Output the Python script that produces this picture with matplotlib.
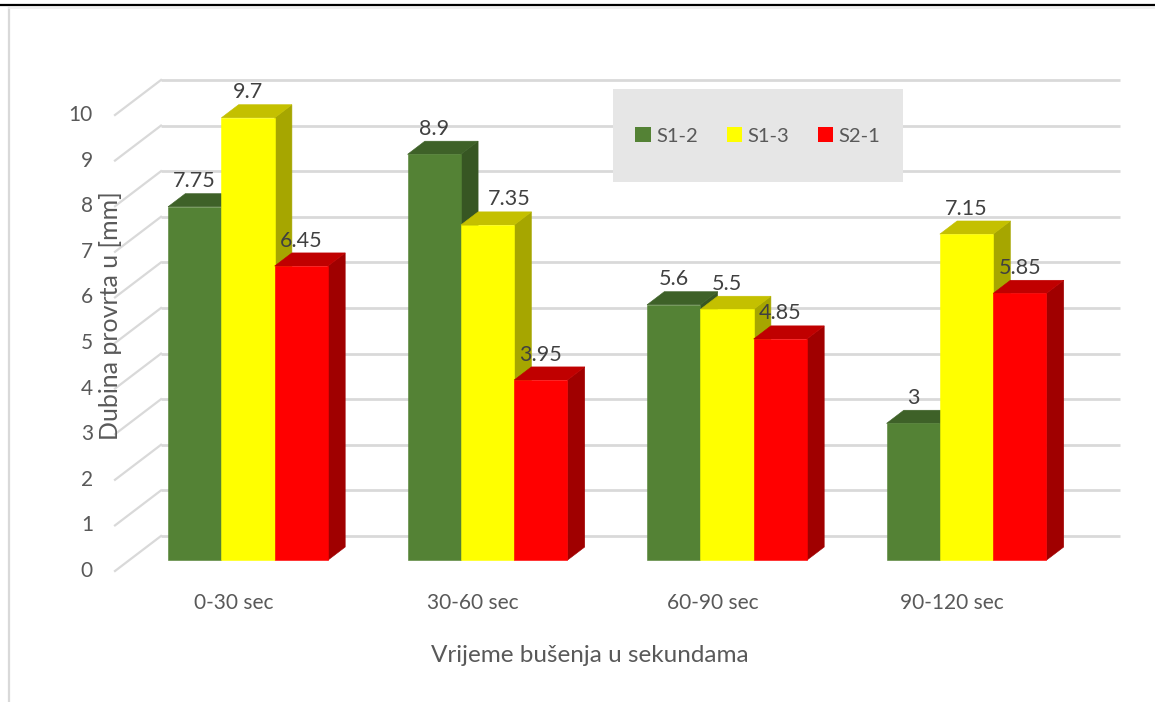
import matplotlib
matplotlib.use("Agg")
import matplotlib.pyplot as plt
from matplotlib.patches import Polygon, Rectangle
from matplotlib.lines import Line2D

plt.rcParams["font.family"] = ["Lato", "DejaVu Sans"]

# ---- data -------------------------------------------------------------
categories = ["0-30 sec", "30-60 sec", "60-90 sec", "90-120 sec"]
series_names = ["S1-2", "S1-3", "S2-1"]
s1_2 = [7.75, 8.9, 5.6, 3.0]
s1_3 = [9.7, 7.35, 5.5, 7.15]
s2_1 = [6.45, 3.95, 4.85, 5.85]
y_ticks = [0, 1, 2, 3, 4, 5, 6, 7, 8, 9, 10]
x_title = "Vrijeme bušenja u sekundama"
y_title = "Dubina provrta u [mm]"

series_values = [s1_2, s1_3, s2_1]
# (front, top, side) shades for each series
series_colors = [
    ("#548235", "#3e6128", "#375623"),
    ("#ffff00", "#c4c000", "#a6a600"),
    ("#ff0000", "#c00000", "#a00000"),
]
TEXT = "#595959"
LABEL = "#404040"
GRID = "#d9d9d9"

# ---- figure and oblique projection -----------------------------------
W, H = 1155, 702
fig = plt.figure(figsize=(W / 100, H / 100), dpi=100)
ax = fig.add_axes([0, 0, 1, 1])

PX_CAT = 239.5      # pixels per category step
PX_VAL = 45.6       # pixels per value unit
OX, OY = 248.0, 536  # plane origin in pixels (from top-left)
ax.set_xlim((0 - OX) / PX_CAT, (W - OX) / PX_CAT)
ax.set_ylim((OY - H) / PX_VAL, OY / PX_VAL)
ax.axis("off")

DX = -46 / PX_CAT   # shift per unit of depth (towards the viewer)
DV = -35 / PX_VAL


def proj(x, v, d):
    """Map (category x, value v, depth d: 0=back, 1=front) to the plane."""
    return (x + DX * d, v + DV * d)


X_MIN, X_MAX = (161 - OX) / PX_CAT, (1120 - OX) / PX_CAT

# gridlines: back wall + left side wall
for t in y_ticks:
    ax.plot([X_MIN, X_MAX], [t, t], color=GRID, lw=2, zorder=1,
            solid_capstyle="butt")
    fx, fy = proj(X_MIN, t, 1)
    ax.plot([fx, X_MIN], [fy, t], color=GRID, lw=1.6, zorder=1)
    ax.text(fx - 22 / PX_CAT, fy, str(t), ha="right", va="center",
            fontsize=15, color=TEXT)

# a data label that sits beside its bar rather than centred over it
label_nudge = {(1, 1): 22 / PX_CAT}

# bars
BW = 53.3 / PX_CAT
D0, D1 = 0.315, 0.69
z = 2
for i, cat in enumerate(categories):
    xc = i - DX * D1   # front face centred on the category position
    for j, vals in enumerate(series_values):
        v = vals[i]
        front_c, top_c, side_c = series_colors[j]
        L = xc - 1.5 * BW + j * BW
        R = L + BW
        side = [proj(R, 0, D1), proj(R, 0, D0), proj(R, v, D0), proj(R, v, D1)]
        top = [proj(L, v, D1), proj(R, v, D1), proj(R, v, D0), proj(L, v, D0)]
        front = [proj(L, 0, D1), proj(R, 0, D1), proj(R, v, D1), proj(L, v, D1)]
        for pts, c in ((side, side_c), (top, top_c), (front, front_c)):
            ax.add_patch(Polygon(pts, closed=True, facecolor=c, edgecolor=c,
                                 lw=0.4, zorder=z))
            z += 1
        lx, _ = proj((L + R) / 2, 0, D1)
        lx += label_nudge.get((j, i), 0)
        ax.text(lx, v + 0.03, f"{v:g}", ha="center", va="center",
                fontsize=15.5, color=LABEL, zorder=100)
    # category label sits on the front edge of the floor
    cx, _ = proj(xc, 0, 1)
    ax.text(cx, (OY - 603) / PX_VAL, cat, ha="center", va="center",
            fontsize=15, color=TEXT)

# axis titles
ax.text((590 - OX) / PX_CAT, (OY - 656) / PX_VAL, x_title, ha="center",
        va="center", fontsize=17.5, color=TEXT)
ax.text((110 - OX) / PX_CAT, (OY - 316) / PX_VAL, y_title, ha="center",
        va="center", rotation=90, fontsize=18, color=TEXT)

# legend box
fig.patches.append(Rectangle((613 / W, 1 - 182 / H), 290 / W, 93 / H,
                             transform=fig.transFigure, facecolor="#e6e6e6",
                             edgecolor="none", zorder=50))
handles = [Rectangle((0, 0), 1, 1, facecolor=c[0], edgecolor="none")
           for c in series_colors]
leg = fig.legend(handles, series_names, loc="center",
                 bbox_to_anchor=(758 / W, 1 - 136 / H), ncol=3, frameon=False,
                 fontsize=14.5, handlelength=0.75, handleheight=0.75,
                 handletextpad=0.3, columnspacing=1.4)
for t in leg.get_texts():
    t.set_color(TEXT)
leg.set_zorder(60)

# outer frame
fig.add_artist(Line2D([0, 1], [1 - 5 / H, 1 - 5 / H], color="black", lw=1.6,
                      transform=fig.transFigure))
fig.add_artist(Line2D([8.5 / W, 8.5 / W], [0, 1 - 7.5 / H], color=GRID,
                      lw=1.6, transform=fig.transFigure))
fig.add_artist(Line2D([8.5 / W, 1], [1 - 7.5 / H, 1 - 7.5 / H], color="#eeeeee",
                      lw=1.2, transform=fig.transFigure))

fig.savefig("out.png", dpi=100, facecolor="white")
